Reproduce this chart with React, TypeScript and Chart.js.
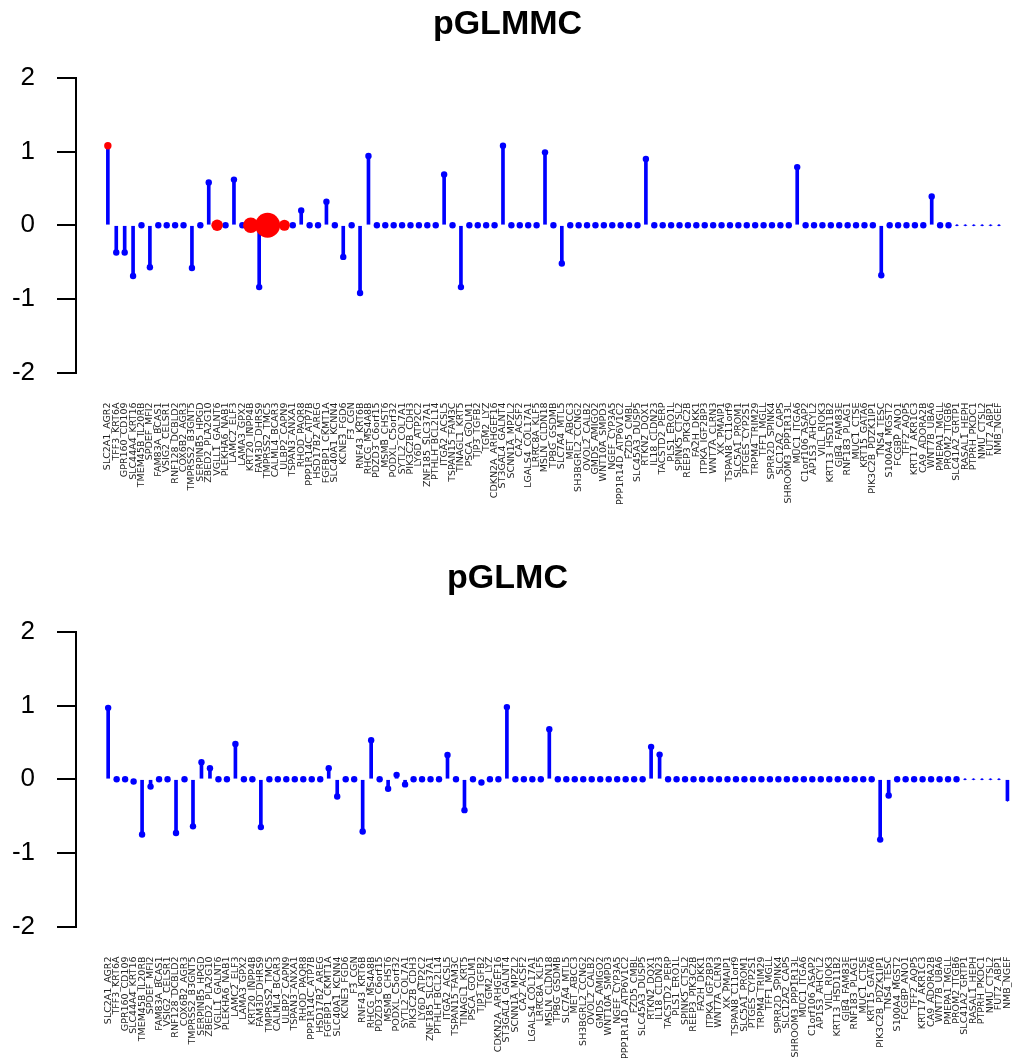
import React, { useEffect, useRef } from "react";
import { Chart, registerables } from "chart.js";

Chart.register(...registerables);

const geneLabels: string[] = [
  "SLC2A1_AGR2", "TFF3_KRT6A", "GPR160_CD109", "SLC44A4_KRT16", "TMEM45B_IL20RB",
  "SPDEF_MFI2", "FAM83A_BCAS1", "VSIG2_CELSR1", "RNF128_DCBLD2", "COX6B2_AGR3",
  "TMPRSS2_B3GNT5", "SERPINB5_HPGD", "ZBED2_PLA2G10", "VGLL1_GALNT6", "PLEKHA6_NAB1",
  "LAMC2_ELF3", "LAMA3_GPX2", "KRT20_INPP4B", "FAM3D_DHRS9", "TMPRSS2_TMC5",
  "CALML4_BCAR3", "ULBP2_CAPN9", "TSPAN3_ANXA1", "RHOD_PAQR8", "PPP1R14C_ATP7B",
  "HSD17B2_AREG", "FGFBP1_CKMT1A", "SLC40A1_KCNN4", "KCNE3_FGD6", "F3_CGN",
  "RNF43_KRT6B", "RHCG_MS4A8B", "PDZD3_C6orf15", "MSMB_CHST6", "PODXL_C5orf32",
  "SYTL2_COL7A1", "PIK3C2B_CDH3", "LY6D_ATP2C2", "ZNF185_SLC37A1", "PTHLH_BCL2L14",
  "ITGA2_ACSL5", "TSPAN15_FAM3C", "TINAGL1_KRT5", "PSCA_GOLM1", "TJP3_TGFB2",
  "TGM2_LYZ", "CDKN2A_ARHGEF16", "ST3GAL4_GALNT4", "SCNN1A_MPZL2", "CA2_ACSF2",
  "LGALS4_COL17A1", "LRRC8A_KLF5", "MSLN_CLDN18", "TPBG_GSDMB", "SLC7A4_MTL5",
  "MET_ABCC3", "SH3BGRL2_CCNG2", "OVOL2_CALB2", "GMDS_AMIGO2", "WNT10A_SMPD3",
  "NGEF_CYP3A5", "PPP1R14D_ATP6V1C2", "FZD5_CMBL", "SLC45A3_DUSP5", "RTKN2_DQX1",
  "IL18_CLDN23", "TACSTD2_PERP", "PLS1_ERO1L", "SPINK5_CTSL2", "REEP3_PIK3C2B",
  "FA2H_DKK1", "ITPKA_IGF2BP3", "WNT7A_CLRN3", "XK_PMAIP1", "TSPAN8_C11orf9",
  "SLC5A1_PROM1", "PTGES_CYP2S1", "TRPM4_TRIM29", "TFF1_MGLL", "SPRR2D_SPINK4",
  "SLC12A2_CAPS", "SHROOM3_PPP1R13L", "MUC1_ITGA6", "C1orf106_ASAP2", "AP1S3_AHCYL2",
  "VILL_RIOK3", "KRT13_HSD11B2", "GJB4_FAM83E", "RNF183_PLAG1", "MUC1_CTSE",
  "KRT15_GATA6", "PIK3C2B_PDZK1IP1", "TNS4_TESC", "S100A4_MGST2", "FCGBP_ANO1",
  "TFF2_AQP5", "KRT17_AKR1C3", "CA9_ADORA2B", "WNT7B_UBA6", "PMEPA1_MGLL",
  "PROM2_ITGB6", "SLC41A2_GRTP1", "RASAL1_HEPH", "PTPRH_PKDC1", "NMU_CTSL2",
  "FUT2_ABP1", "NMB_NGEF",
];

// pGLMMC coefficients (one per gene pair)
const pglmmcValues: number[] = [
  1.08, -0.37, -0.37, -0.69, 0, -0.57, 0, 0, 0, 0,
  -0.58, 0, 0.58, 0, 0, 0.62, 0, 0, -0.84, 0,
  0, 0, 0, 0.2, 0, 0, 0.32, 0, -0.43, 0,
  -0.92, 0.94, 0, 0, 0, 0, 0, 0, 0, 0,
  0.69, 0, -0.84, 0, 0, 0, 0, 1.08, 0, 0,
  0, 0, 0.99, 0, -0.52, 0, 0, 0, 0, 0,
  0, 0, 0, 0, 0.9, 0, 0, 0, 0, 0,
  0, 0, 0, 0, 0, 0, 0, 0, 0, 0,
  0, 0, 0.79, 0, 0, 0, 0, 0, 0, 0,
  0, 0, -0.68, 0, 0, 0, 0, 0, 0.39, 0,
  0, 0, 0, 0, 0, 0, 0,
];

// red highlighted markers in pGLMMC (marker radius, 0 = ordinary blue marker)
const pglmmcHighlight: number[] = [
  3.7, 0, 0, 0, 0, 0, 0, 0, 0, 0,
  0, 0, 0, 5.8, 0, 0, 0, 7.7, 0, 12.5,
  0, 5.5, 0, 0, 0, 0, 0, 0, 0, 0,
  0, 0, 0, 0, 0, 0, 0, 0, 0, 0,
  0, 0, 0, 0, 0, 0, 0, 0, 0, 0,
  0, 0, 0, 0, 0, 0, 0, 0, 0, 0,
  0, 0, 0, 0, 0, 0, 0, 0, 0, 0,
  0, 0, 0, 0, 0, 0, 0, 0, 0, 0,
  0, 0, 0, 0, 0, 0, 0, 0, 0, 0,
  0, 0, 0, 0, 0, 0, 0, 0, 0, 0,
  0, 0, 0, 0, 0, 0, 0,
];

// pGLMC coefficients
const pglmcValues: number[] = [
  0.97, 0, 0, -0.03, -0.75, -0.1, 0, 0, -0.73, 0,
  -0.64, 0.23, 0.15, 0, 0, 0.48, 0, 0, -0.65, 0,
  0, 0, 0, 0, 0, 0, 0.15, -0.235, 0, 0,
  -0.71, 0.53, 0, -0.13, 0.06, -0.07, 0, 0, 0, 0,
  0.33, 0, -0.42, 0, -0.045, 0, 0, 0.98, 0, 0,
  0, 0, 0.68, 0, 0, 0, 0, 0, 0, 0,
  0, 0, 0, 0, 0.44, 0.335, 0, 0, 0, 0,
  0, 0, 0, 0, 0, 0, 0, 0, 0, 0,
  0, 0, 0, 0, 0, 0, 0, 0, 0, 0,
  0, -0.82, -0.22, 0, 0, 0, 0, 0, 0, 0,
  0, 0, 0, 0, 0, 0, -0.29,
];

const pglmcHighlight: number[] = pglmcValues.map(() => 0);

const yTickValues: number[] = [-2, -1, 0, 1, 2];

// markers after this many categories fall outside the plot region and are drawn as small dots
const fullMarkerCount = 101;

const FONT = "'Liberation Sans', Arial, Helvetica, sans-serif";
const LABEL_FONT = "'DejaVu Sans', 'Liberation Sans', sans-serif";
const BLUE = "#0000ff";
const RED = "#ff0000";

type PanelProps = {
  title: string;
  values: number[];
  highlight: number[];
  height: number;
};

function Panel({ title, values, highlight, height }: PanelProps) {
  const ref = useRef<HTMLCanvasElement | null>(null);

  useEffect(() => {
    if (!ref.current) return;
    const stems = values.map((v, i) => ({ x: i, y: v }));
    const bluePts = values
      .map((v, i) => ({ x: i, y: v, r: i < fullMarkerCount ? 3.2 : 1.1 }))
      .filter((_, i) => !(highlight[i] > 0));
    const redPts = values
      .map((v, i) => ({ x: i, y: v, r: highlight[i] }))
      .filter((p) => p.r > 0);

    const chart = new Chart(ref.current, {
      type: "scatter",
      data: {
        datasets: [
          {
            type: "scatter",
            data: redPts,
            backgroundColor: RED,
            borderColor: RED,
            borderWidth: 0,
            pointRadius: redPts.map((p) => p.r),
            order: 1,
            clip: false,
          } as any,
          {
            type: "scatter",
            data: bluePts,
            backgroundColor: BLUE,
            borderColor: BLUE,
            borderWidth: 0,
            pointRadius: bluePts.map((p) => p.r),
            order: 2,
            clip: false,
          } as any,
          {
            type: "bar",
            data: stems,
            backgroundColor: BLUE,
            borderWidth: 0,
            barThickness: 3,
            grouped: false,
            order: 3,
            clip: false,
          } as any,
        ],
      },
      options: {
        animation: false,
        responsive: false,
        devicePixelRatio: 1,
        layout: { padding: 0 },
        events: [],
        plugins: {
          legend: { display: false },
          tooltip: { enabled: false },
          title: {
            display: true,
            text: title,
            color: "#000",
            font: { family: FONT, size: 34, weight: "bold", lineHeight: 1 },
            padding: { top: 8, bottom: 36 },
          },
        },
        scales: {
          x: {
            type: "linear",
            bounds: "data",
            offset: false,
            min: -3.79,
            max: 106.42,
            afterBuildTicks: (axis: any) => {
              axis.ticks = geneLabels.map((_, i) => ({ value: i }));
            },
            afterFit: (axis: any) => {
              axis.height = height - 372.5;
              axis.paddingLeft = 0;
              axis.paddingRight = 0;
            },
            grid: { display: false, drawTicks: true, tickLength: 28 },
            border: { display: false },
            ticks: {
              autoSkip: false,
              minRotation: 90,
              maxRotation: 90,
              padding: 2,
              color: "#222",
              font: { family: LABEL_FONT, size: 9.5 },
              callback: (v: any) => geneLabels[v as number] ?? "",
            },
          },
          y: {
            type: "linear",
            min: -2,
            max: 2,
            afterBuildTicks: (axis: any) => {
              axis.ticks = yTickValues.map((v) => ({ value: v }));
            },
            afterFit: (axis: any) => {
              axis.width = 76;
            },
            grid: {
              drawOnChartArea: false,
              drawTicks: true,
              tickLength: 19,
              lineWidth: 2,
              color: "#000",
            },
            border: { display: true, color: "#000", width: 2 },
            ticks: {
              padding: 22,
              color: "#000",
              font: { family: FONT, size: 26 },
              callback: (v: any) => String(v).replace("\u2212", "-"),
            },
          },
        },
      } as any,
    });
    return () => chart.destroy();
  }, [title, values, highlight, height]);

  return <canvas ref={ref} width={1015} height={height} style={{ display: "block", width: 1015, height }} />;
}

export default function App() {
  return (
    <div style={{ position: "absolute", left: 0, top: 0, width: 1015, height: 1062, background: "#fff" }}>
      <Panel title="pGLMMC" values={pglmmcValues} highlight={pglmmcHighlight} height={554} />
      <Panel title="pGLMC" values={pglmcValues} highlight={pglmcHighlight} height={508} />
    </div>
  );
}
